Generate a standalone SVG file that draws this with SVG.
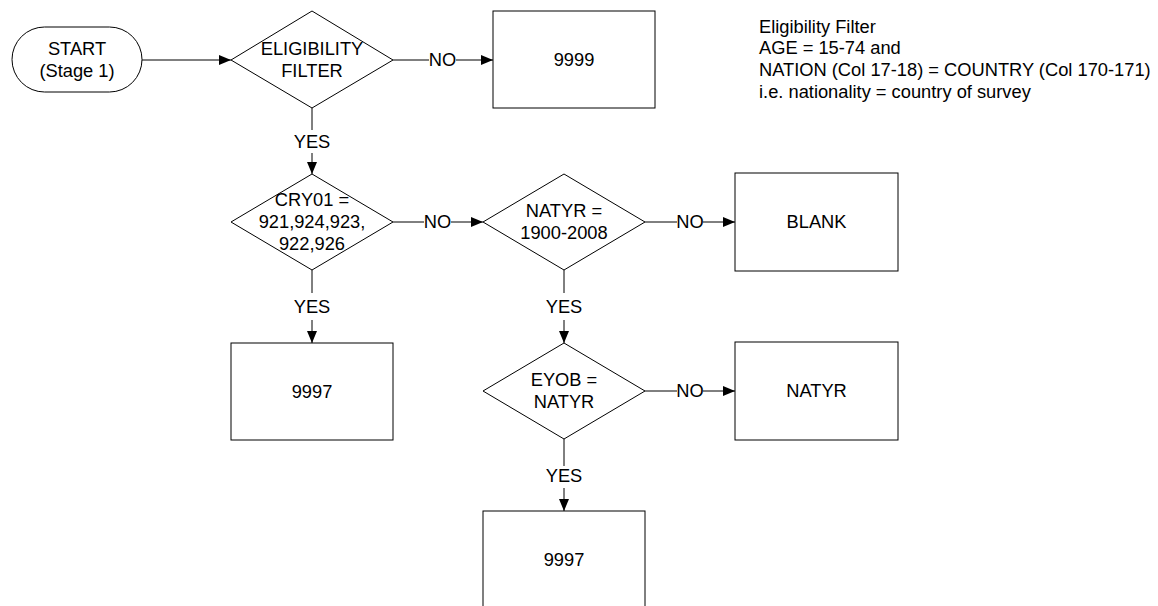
<svg xmlns="http://www.w3.org/2000/svg" width="1158" height="606" viewBox="0 0 1158 606">
<style>
.s{fill:#fff;stroke:#000;stroke-width:1}
.c{fill:none;stroke:#000;stroke-width:1}
text{font-family:"Liberation Sans",Arial,sans-serif;font-size:18.3px;fill:#000}
.m{text-anchor:middle}
</style>
<defs>
<marker id="ah" markerUnits="userSpaceOnUse" markerWidth="13" markerHeight="11" refX="12" refY="5" orient="auto">
<path d="M0,0 L12,5 L0,10 Z" fill="#000"/>
</marker>
</defs>
<rect width="1158" height="606" fill="#fff"/>
<g id="connectors">
<line class="c" x1="142" y1="60" x2="231" y2="60" marker-end="url(#ah)"/>
<line class="c" x1="393" y1="60" x2="429" y2="60"/>
<line class="c" x1="456" y1="60" x2="493" y2="60" marker-end="url(#ah)"/>
<text class="m" x="442.5" y="66.4">NO</text>
<line class="c" x1="312" y1="108" x2="312" y2="130"/>
<line class="c" x1="312" y1="153" x2="312" y2="174" marker-end="url(#ah)"/>
<text class="m" x="312" y="148">YES</text>
<line class="c" x1="393" y1="222" x2="424" y2="222"/>
<line class="c" x1="451" y1="222" x2="483" y2="222" marker-end="url(#ah)"/>
<text class="m" x="437.5" y="228.4">NO</text>
<line class="c" x1="645" y1="222" x2="677" y2="222"/>
<line class="c" x1="703" y1="222" x2="735" y2="222" marker-end="url(#ah)"/>
<text class="m" x="690" y="228.4">NO</text>
<line class="c" x1="312" y1="270" x2="312" y2="293"/>
<line class="c" x1="312" y1="320" x2="312" y2="343" marker-end="url(#ah)"/>
<text class="m" x="312" y="313.4">YES</text>
<line class="c" x1="564" y1="270" x2="564" y2="293"/>
<line class="c" x1="564" y1="320" x2="564" y2="343" marker-end="url(#ah)"/>
<text class="m" x="564" y="313.4">YES</text>
<line class="c" x1="645" y1="391" x2="677" y2="391"/>
<line class="c" x1="703" y1="391" x2="735" y2="391" marker-end="url(#ah)"/>
<text class="m" x="690" y="397.4">NO</text>
<line class="c" x1="564" y1="439" x2="564" y2="466"/>
<line class="c" x1="564" y1="488" x2="564" y2="511" marker-end="url(#ah)"/>
<text class="m" x="564" y="482">YES</text>
</g>
<g id="start">
<rect class="s" x="12" y="27" width="130" height="65" rx="32.5" ry="32.5"/>
<text class="m" x="77" y="54.5">START</text>
<text class="m" x="77" y="77">(Stage 1)</text>
</g>
<g id="eligibility">
<polygon class="s" points="312,11 393,60 312,108 231,60"/>
<text class="m" x="312" y="55.4">ELIGIBILITY</text>
<text class="m" x="312" y="77.4">FILTER</text>
</g>
<g id="box9999">
<rect class="s" x="493" y="11" width="162" height="97"/>
<text class="m" x="574" y="66.4">9999</text>
</g>
<g id="note">
<text x="759" y="32.5">Eligibility Filter</text>
<text x="759" y="54.2">AGE = 15-74 and</text>
<text x="759" y="75.9">NATION (Col 17-18) = COUNTRY (Col 170-171)</text>
<text x="759" y="97.6">i.e. nationality = country of survey</text>
</g>
<g id="cry01">
<polygon class="s" points="312,174 393,222 312,270 231,222"/>
<text class="m" x="312" y="206.4">CRY01 =</text>
<text class="m" x="312" y="228.4">921,924,923,</text>
<text class="m" x="312" y="250.4">922,926</text>
</g>
<g id="natyr-range">
<polygon class="s" points="564,174 645,222 564,270 483,222"/>
<text class="m" x="564" y="217.4">NATYR =</text>
<text class="m" x="564" y="239.4">1900-2008</text>
</g>
<g id="blank">
<rect class="s" x="735" y="173" width="163" height="98"/>
<text class="m" x="816.5" y="228.4">BLANK</text>
</g>
<g id="box9997a">
<rect class="s" x="231" y="343" width="162" height="97"/>
<text class="m" x="312" y="397.9">9997</text>
</g>
<g id="eyob">
<polygon class="s" points="564,343 645,391 564,439 483,391"/>
<text class="m" x="564" y="386.4">EYOB =</text>
<text class="m" x="564" y="408.4">NATYR</text>
</g>
<g id="natyr-box">
<rect class="s" x="735" y="342" width="163" height="98"/>
<text class="m" x="816.5" y="397.4">NATYR</text>
</g>
<g id="box9997b">
<rect class="s" x="483" y="511" width="162" height="97"/>
<text class="m" x="564" y="566">9997</text>
</g>
</svg>
